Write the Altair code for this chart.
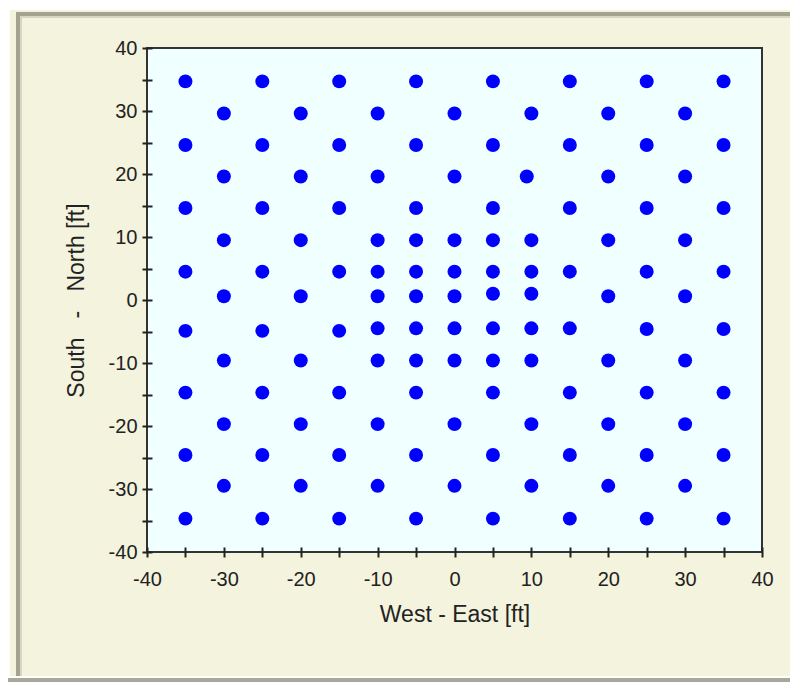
import altair as alt
import pandas as pd

# ---- data (West-East, South-North in ft) ----
row_34 = {"x": [-35, -25, -15, -5, 5, 15, 25, 35], "y": [34.7] * 8}
row_29 = {"x": [-30, -20, -10, 0, 10, 20, 30], "y": [29.6] * 7}
row_24 = {"x": [-35, -25, -15, -5, 5, 15, 25, 35], "y": [24.6] * 8}
row_19 = {"x": [-30, -20, -10, 0, 9.4, 20, 30], "y": [19.6] * 7}
row_14 = {"x": [-35, -25, -15, -5, 5, 15, 25, 35], "y": [14.6] * 8}
row_09 = {"x": [-30, -20, -10, -5, 0, 5, 10, 20, 30], "y": [9.5] * 9}
row_04 = {"x": [-35, -25, -15, -10, -5, 0, 5, 10, 15, 25, 35], "y": [4.5] * 11}
row_00 = {"x": [-30, -20, -10, -5, 0, 5, 10, 20, 30],
          "y": [0.6, 0.6, 0.6, 0.6, 0.6, 1.0, 1.0, 0.6, 0.6]}
row_m04 = {"x": [-35, -25, -15, -10, -5, 0, 5, 10, 15, 25, 35],
           "y": [-4.9, -4.9, -4.9, -4.5, -4.5, -4.5, -4.5, -4.5, -4.5, -4.6, -4.6]}
row_m09 = {"x": [-30, -20, -10, -5, 0, 5, 10, 20, 30], "y": [-9.6] * 9}
row_m14 = {"x": [-35, -25, -15, -5, 5, 15, 25, 35], "y": [-14.7] * 8}
row_m19 = {"x": [-30, -20, -10, 0, 10, 20, 30], "y": [-19.7] * 7}
row_m24 = {"x": [-35, -25, -15, -5, 5, 15, 25, 35], "y": [-24.6] * 8}
row_m29 = {"x": [-30, -20, -10, 0, 10, 20, 30], "y": [-29.5] * 7}
row_m34 = {"x": [-35, -25, -15, -5, 5, 15, 25, 35], "y": [-34.7] * 8}

rows = [row_34, row_29, row_24, row_19, row_14, row_09, row_04, row_00,
        row_m04, row_m09, row_m14, row_m19, row_m24, row_m29, row_m34]

tick_values = [-40, -35, -30, -25, -20, -15, -10, -5, 0, 5, 10, 15, 20, 25, 30, 35, 40]

xs, ys = [], []
for r in rows:
    xs.extend(r["x"])
    ys.extend(r["y"])
df = pd.DataFrame({"we": xs, "sn": ys})

FONT = "Liberation Sans"
INK = "#222222"
NB = "\u00a0"
label_expr = "datum.value % 10 == 0 ? '' + datum.value : ''"

points = alt.Chart(df).mark_circle(size=195, color="#0000FF", opacity=1).encode(
    x=alt.X("we:Q", scale=alt.Scale(domain=[-40, 40], nice=False, zero=False),
            axis=alt.Axis(values=tick_values, labelExpr=label_expr,
                          title="West" + NB + "-" + NB + "East" + NB + "[ft]",
                          domain=False, offset=-5, tickSize=10, tickWidth=2, tickColor=INK,
                          labelFont=FONT, labelFontSize=20, labelColor=INK, labelPadding=12,
                          labelFlush=False, labelOverlap=False, grid=False,
                          titleFont=FONT, titleFontSize=23, titleFontWeight="normal",
                          titleColor=INK, titlePadding=14)),
    y=alt.Y("sn:Q", scale=alt.Scale(domain=[-40, 40], nice=False, zero=False),
            axis=alt.Axis(values=tick_values, labelExpr=label_expr,
                          title="South" + NB * 3 + "-" + NB * 3 + "North" + NB + "[ft]",
                          domain=False, offset=-5, tickSize=10, tickWidth=2, tickColor=INK,
                          labelFont=FONT, labelFontSize=20, labelColor=INK, labelPadding=5,
                          labelFlush=False, labelOverlap=False, grid=False,
                          titleFont=FONT, titleFontSize=23, titleFontWeight="normal",
                          titleColor=INK, titlePadding=20)),
)

def band(x, x2, y, y2, color):
    return alt.Chart(pd.DataFrame({"k": [0]})).mark_rect(color=color).encode(
        x=alt.value(x), x2=alt.value(x2), y=alt.value(y), y2=alt.value(y2))

frame = [
    band(-139, 643, -40, -38, "#FFFFFF"),
    band(-139, -137, -40, 630, "#FFFFFF"),
    band(-131, 643, -36, -32, "#A3A38F"),
    band(-127, 643, -32, -30, "#D6D6C4"),
    band(-131, -127, -36, 630, "#A3A38F"),
    band(-127, -125, -32, 628, "#D6D6C4"),
    band(-139, 643, 628, 630, "#FFFFFF"),
    band(-139, 643, 630, 634, "#A8A898"),
]

chart = alt.layer(*frame, points).properties(
    width=615, height=504,
    background="#F4F3DD",
    padding={"left": 139, "top": 40, "right": 28, "bottom": 130},
    autosize=alt.AutoSizeParams(type="none"),
).configure_view(fill="#F0FFFF", stroke="#333333", strokeWidth=2)

chart.save("out.html", embed_options={"renderer": "svg", "actions": False})
